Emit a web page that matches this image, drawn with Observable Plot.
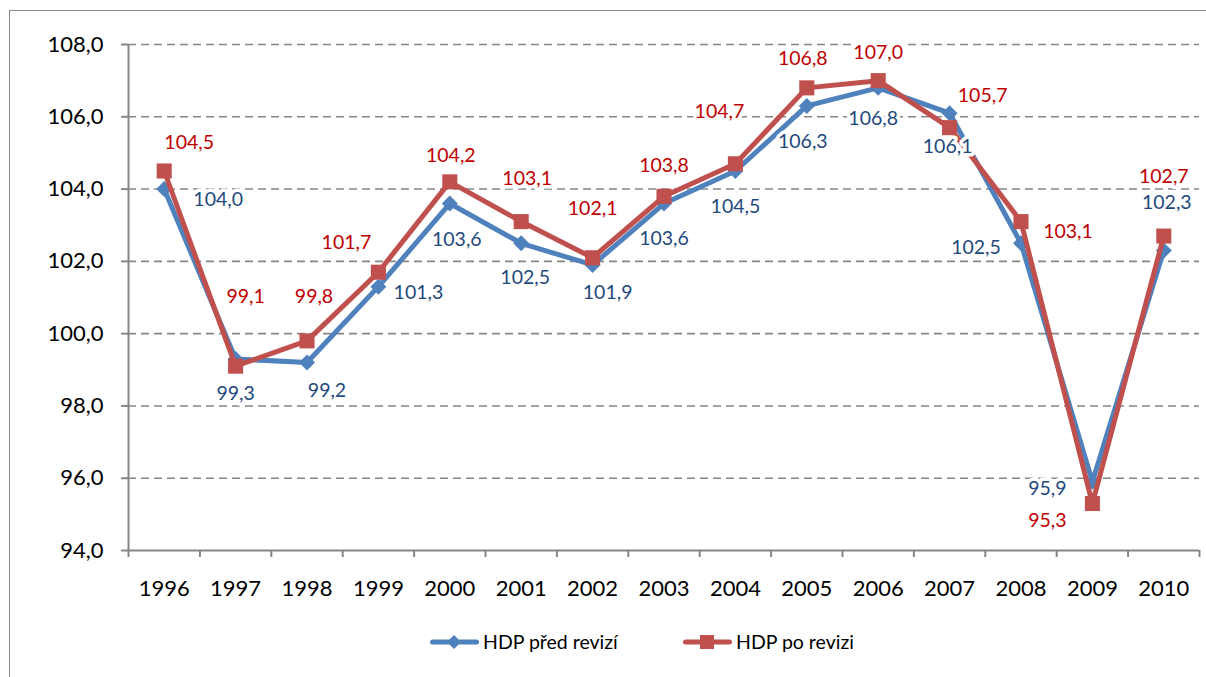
<!DOCTYPE html>
<html>
<head>
<meta charset="utf-8">
<script src="https://cdn.jsdelivr.net/npm/d3@7"></script>
<script src="https://cdn.jsdelivr.net/npm/@observablehq/plot@0.6"></script>
<style>
  html, body { margin: 0; padding: 0; background: #fff; overflow: hidden; }
  #wrap { position: relative; width: 1206px; height: 677px; font-family: Lato, "Open Sans", sans-serif; }
  #frame { position: absolute; left: 9px; top: 10px; right: -10px; bottom: -10px; border-left: 1.5px solid #8a8a8a; border-top: 1.5px solid #8a8a8a; pointer-events: none; }
  #chart { position: absolute; left: 0; top: 0; }
  #legend { position: absolute; left: 0; top: 620px; width: 1206px; height: 57px; }
  .item { position: absolute; top: 10px; display: flex; align-items: center; font-size: 19.5px; color: #000; }
  .item svg { display: block; margin-right: 4px; }
</style>
</head>
<body>
<div id="wrap">
  <div id="chart"></div>
  <div id="legend"></div>
  <div id="frame"></div>
</div>
<script>
// ---- data ----
const years = [1996, 1997, 1998, 1999, 2000, 2001, 2002, 2003, 2004, 2005, 2006, 2007, 2008, 2009, 2010];
const hdpPredRevizi = [104.0, 99.3, 99.2, 101.3, 103.6, 102.5, 101.9, 103.6, 104.5, 106.3, 106.8, 106.1, 102.5, 95.9, 102.3];
const hdpPoRevizi   = [104.5, 99.1, 99.8, 101.7, 104.2, 103.1, 102.1, 103.8, 104.7, 106.8, 107.0, 105.7, 103.1, 95.3, 102.7];
const yTicks = [94, 96, 98, 100, 102, 104, 106, 108];
const seriesNames = ["HDP před revizí", "HDP po revizi"];

// ---- label placement (pixel offsets from each point) ----
const blueLabelOffsets = [[54, 11], [0, 35], [20, 28], [40, 6], [7, 36], [4, 34], [15, 28], [0, 35], [0, 36], [-4, 36], [-5, 31], [-2, 34], [-45, 4], [-45, 7], [3, -48]];
const redLabelOffsets  = [[25, -28], [10, -69], [7, -44], [-32, -29], [1, -26], [6, -43], [0, -49], [0, -31], [-16, -52], [-4, -29], [0, -28], [33, -32], [47, 10], [-45, 17], [0, -59]];

const BLUE = "#4F81BD", RED = "#C0504D";
const BLUE_TXT = "#1F497D", RED_TXT = "#C00000";
const GREY = "#868686";
const fmt = v => v.toFixed(1).replace(".", ",");
const xi = (d, i) => i + 0.5;

function labels(values, offsets, color) {
  return values.map((v, i) => Plot.text([v], {
    x: () => i + 0.5, y: d => d, text: fmt,
    dx: offsets[i][0], dy: offsets[i][1],
    fill: color, fontSize: 19.5,
    stroke: "white", strokeWidth: 7
  }));
}

const chart = Plot.plot({
  width: 1206,
  height: 620,
  marginLeft: 128,
  marginRight: 7,
  marginTop: 44,
  marginBottom: 70,
  style: { fontFamily: "Lato, 'Open Sans', sans-serif", fontSize: "22px", color: "#000", background: "transparent" },
  x: { type: "linear", domain: [0, years.length] },
  y: { domain: [94, 108] },
  marks: [
    Plot.ruleY(yTicks.filter(t => t > 94), { stroke: GREY, strokeWidth: 1.6, strokeDasharray: "8,5" }),
    Plot.axisY({ ticks: yTicks, tickFormat: fmt, tickSize: 7, tickPadding: 18, stroke: GREY, strokeWidth: 2, fill: "#000" }),
    Plot.axisX({ ticks: d3.range(years.length + 1), tickFormat: () => "", tickSize: 7, stroke: GREY, strokeWidth: 2 }),
    Plot.axisX({ ticks: years.map((d, i) => i + 0.5), tickFormat: t => String(years[Math.floor(t)]), tickSize: 0, tickPadding: 30, fill: "#000" }),
    Plot.ruleX([0], { stroke: GREY, strokeWidth: 2 }),
    Plot.ruleY([94], { stroke: GREY, strokeWidth: 2 }),
    Plot.line(hdpPredRevizi, { x: xi, y: d => d, stroke: BLUE, strokeWidth: 5, strokeLinejoin: "round" }),
    Plot.dot(hdpPredRevizi, { x: xi, y: d => d, symbol: "diamond2", r: 7.2, fill: BLUE, stroke: null }),
    Plot.line(hdpPoRevizi, { x: xi, y: d => d, stroke: RED, strokeWidth: 5, strokeLinejoin: "round" }),
    Plot.dot(hdpPoRevizi, { x: xi, y: d => d, symbol: "square", r: 8.5, fill: RED, stroke: null }),
    ...labels(hdpPredRevizi, blueLabelOffsets, BLUE_TXT),
    ...labels(hdpPoRevizi, redLabelOffsets, RED_TXT)
  ]
});
document.getElementById("chart").appendChild(chart);

// ---- legend ----
const legend = document.getElementById("legend");
const legendItems = [
  { name: seriesNames[0], color: BLUE, shape: "diamond", left: 430 },
  { name: seriesNames[1], color: RED, shape: "square", left: 683 }
];
legendItems.forEach(it => {
  const div = document.createElement("div");
  div.className = "item";
  div.style.left = it.left + "px";
  const marker = it.shape === "diamond"
    ? `<path d="M24,2 L31,9 L24,16 L17,9 Z" fill="${it.color}"/>`
    : `<rect x="17" y="2" width="14" height="14" fill="${it.color}"/>`;
  div.innerHTML = `<svg width="49" height="18" viewBox="0 0 49 18"><line x1="2.5" y1="9" x2="46.5" y2="9" stroke="${it.color}" stroke-width="5" stroke-linecap="round"/>${marker}</svg><span>${it.name}</span>`;
  legend.appendChild(div);
});
</script>
</body>
</html>
